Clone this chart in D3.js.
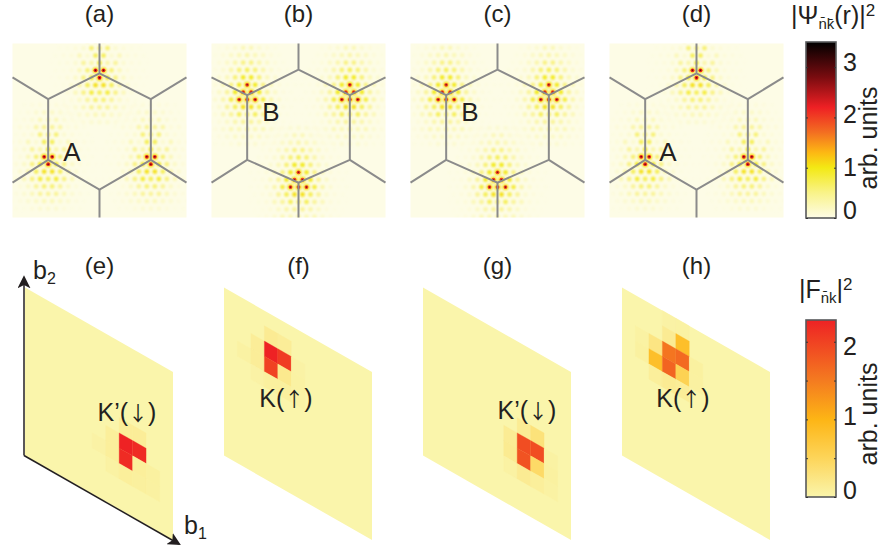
<!DOCTYPE html>
<html lang="en">
<head>
<meta charset="UTF-8">
<title>Wavefunction and Fourier weights</title>
<script src="https://cdn.jsdelivr.net/npm/d3@7/dist/d3.min.js"></script>
<style>
html, body { margin: 0; padding: 0; background: #fff; }
svg { display: block; }
text { font-family: "Liberation Sans", Arial, sans-serif; fill: #231f20; }
</style>
</head>
<body>
<svg width="894" height="552"></svg>
<script>
// real space panels
var topLabels = ["(a)", "(b)", "(c)", "(d)"];
var topSublattice = ["A", "B", "B", "A"];
var topKinds = ["up", "down", "down", "up"];

// cell outline in panel units (-1..1), one list per orientation
var cellLines = {
    up: [
        [[0, -1], [0, -0.657], [0.59, -0.36], [0.59, 0.337], [0, 0.68], [-0.59, 0.337], [-0.59, -0.36], [0, -0.657]],
        [[-0.59, -0.36], [-1, -0.61]], [[0.59, -0.36], [1, -0.61]],
        [[-0.59, 0.337], [-1, 0.6]], [[0.59, 0.337], [1, 0.6]], [[0, 0.68], [0, 1]]
    ],
    down: [
        [[0, -1], [0, -0.7], [0.59, -0.406], [0.59, 0.337], [0, 0.6], [-0.59, 0.337], [-0.59, -0.406], [0, -0.7]],
        [[-0.59, -0.406], [-1, -0.61]], [[0.59, -0.406], [1, -0.61]],
        [[-0.59, 0.337], [-1, 0.6]], [[0.59, 0.337], [1, 0.6]], [[0, 0.6], [0, 1]]
    ]
};
// which corners carry the density
var hotCorners = {
    up: [[0, -0.657], [-0.59, 0.337], [0.59, 0.337]],
    down: [[-0.59, -0.406], [0.59, -0.406], [0, 0.6]]
};
// density read around one corner, rows top to bottom
var patchUp = [
    [.08, .12, .15, .15, .15, .12, .08],
    [.08, .12, .2, .25, .25, .2, .12, .08],
    [.1, .12, .18, .3, .3, .3, .18, .12, .1],
    [.1, .15, .15, .35, .4, .4, .35, .15, .15, .1],
    [.08, .1, .15, .2, .5, .45, .5, .2, .15, .1, .08],
    [.08, .12, .15, .3, .2, .6, .6, .2, .3, .15, .12, .08],
    [.06, .1, .12, .2, .4, .35, .75, .35, .4, .2, .12, .1, .06],
    [.08, .1, .15, .3, .5, 2.4, 2.4, .5, .3, .15, .1, .08],
    [.06, .1, .15, .25, .45, .8, 2.4, .8, .45, .25, .15, .1, .06],
    [.06, .1, .2, .35, .6, .9, .9, .6, .35, .2, .1, .06],
    [.06, .1, .15, .3, .45, .7, .6, .7, .45, .3, .15, .1, .06],
    [.05, .1, .15, .25, .4, .5, .5, .4, .25, .15, .1, .05],
    [.08, .12, .2, .3, .4, .4, .4, .3, .2, .12, .08],
    [.08, .12, .2, .25, .3, .3, .25, .2, .12, .08],
    [.08, .1, .15, .2, .2, .2, .15, .1, .08]
];
var patchDown = [
    [.1, .12, .18, .2, .18, .12, .1],
    [.1, .15, .2, .3, .3, .2, .15, .1],
    [.1, .15, .25, .3, .35, .3, .25, .15, .1],
    [.1, .15, .25, .35, .45, .45, .35, .25, .15, .1],
    [.1, .12, .2, .35, .5, .6, .5, .35, .2, .12, .1],
    [.08, .12, .2, .3, .5, .8, .8, .5, .3, .2, .12, .08],
    [.08, .1, .15, .3, .45, .8, 2.2, .8, .45, .3, .15, .1, .08],
    [.08, .12, .25, .4, .8, 2.2, 2.2, .8, .4, .25, .12, .08],
    [.08, .1, .2, .35, .7, 2.2, 2.2, 2.2, .7, .35, .2, .1, .08],
    [.08, .12, .2, .4, .6, .9, .9, .6, .4, .2, .12, .08],
    [.06, .1, .15, .3, .4, .6, .5, .6, .4, .3, .15, .1, .06],
    [.06, .1, .15, .25, .35, .4, .4, .35, .25, .15, .1, .06],
    [.08, .12, .2, .3, .3, .35, .3, .3, .2, .12, .08],
    [.08, .12, .18, .25, .25, .25, .25, .18, .12, .08],
    [.08, .1, .15, .2, .2, .2, .15, .1, .08]
];

// momentum space panels: [column, row, weight], the rest of the 11x11 grid is 0
var bottomLabels = ["(e)", "(f)", "(g)", "(h)"];
var valleyNames = ["K’(", "K(", "K’(", "K("];
var valleySpins = ["↓", "↑", "↓", "↑"];
var gridSize = 11;
var weightsE = [[7, 6, 2.28], [8, 6, 2.2], [7, 7, 2.2], [8, 7, .1], [7, 5, .12], [8, 5, .12], [6, 6, .1], [6, 7, .1], [7, 8, .1], [8, 8, .08], [9, 7, .07], [9, 8, .06], [5, 7, .04], [6, 8, .05]];
var weightsF = [[3, 2, 2.28], [4, 2, 2.05], [3, 3, 2.0], [4, 3, .18], [3, 1, .15], [4, 1, .12], [2, 2, .12], [2, 3, .12], [3, 4, .08], [4, 4, .08], [1, 3, .05], [5, 3, .05], [5, 2, .04], [5, 4, .04], [2, 4, .04]];
var weightsG = [[7, 6, 1.9], [8, 6, 1.9], [7, 7, 1.85], [8, 7, .42], [8, 5, .3], [7, 5, .14], [6, 6, .14], [6, 7, .16], [7, 8, .15], [8, 8, .1], [9, 7, .07], [9, 6, .05], [9, 8, .05], [6, 8, .05]];
var weightsH = [[3, 2, 1.55], [4, 2, 1.65], [3, 3, 1.7], [4, 3, .55], [2, 3, .85], [4, 1, .85], [2, 2, .25], [3, 1, .15], [2, 4, .1], [3, 4, .15], [4, 4, .12], [1, 3, .07], [1, 2, .05], [5, 2, .07], [5, 3, .06], [3, 0, .04], [4, 0, .05]];
var allWeights = [weightsE, weightsF, weightsG, weightsH];

// colour bars
var psiDomain = [0, .5, 1, 1.3, 1.7, 2.2, 2.8, 3.5];
var psiColors = ["#fdfce6", "#f9f389", "#f3e914", "#fdb813", "#f36f21", "#ee2024", "#7a0c10", "#000000"];
var psiTicks = [0, 1, 2, 3];
var psiLabelShift = [-8, -1, -3, -5];
var weightDomain = [0, .5, 1, 1.5, 2.28];
var weightColors = ["#faf5ab", "#fdd55a", "#fdb515", "#f47b20", "#ee2224"];
var weightTicks = [0, .5, 1, 1.5, 2];
var weightLabelShift = { 0: -7, 1: -3, 2: 4 };

var svg = d3.select("svg");
var defs = svg.append("defs");
defs.append("filter").attr("id", "soft").attr("x", "-100%").attr("y", "-100%").attr("width", "300%").attr("height", "300%")
    .append("feGaussianBlur").attr("stdDeviation", .95);
defs.append("filter").attr("id", "softer").attr("x", "-100%").attr("y", "-100%").attr("width", "300%").attr("height", "300%")
    .append("feGaussianBlur").attr("stdDeviation", .4);

var psiColor = d3.scaleLinear().domain(psiDomain).range(psiColors).clamp(true);
var weightColor = d3.scaleLinear().domain(weightDomain).range(weightColors).clamp(true);

var topX0 = d3.scaleLinear().domain([0, 3]).range([99.5, 696.5]);
var half = 87;
var cy = 130.5;
var latticeX = 8, latticeY = 7.4;
var sublatticeX = [72, 271, 470, 668];

topLabels.forEach(function (label, i) {
    var cx = topX0(i);
    var kind = topKinds[i];
    var x = d3.scaleLinear().domain([-1, 1]).range([cx - half, cx + half]);
    var y = d3.scaleLinear().domain([-1, 1]).range([cy - half, cy + half]);
    var g = svg.append("g");

    defs.append("clipPath").attr("id", "clip" + i).append("rect")
        .attr("x", x(-1)).attr("y", y(-1)).attr("width", half * 2).attr("height", half * 2);

    g.append("rect").attr("x", x(-1)).attr("y", y(-1)).attr("width", half * 2).attr("height", half * 2)
        .attr("fill", psiColor(0));

    var patch = kind == "up" ? patchUp : patchDown;
    var spots = [];
    hotCorners[kind].forEach(function (c) {
        patch.forEach(function (row, k) {
            row.forEach(function (v, j) {
                spots.push({
                    x: x(c[0]) + (j - (row.length - 1) / 2) * latticeX,
                    y: y(c[1]) - 3 + (k - 7) * latticeY,
                    v: v
                });
            });
        });
    });
    spots.sort(function (a, b) { return a.v - b.v; });

    var clipped = g.append("g").attr("clip-path", "url(#clip" + i + ")");
    // fringes and the yellow halo round each peak
    clipped.append("g").attr("filter", "url(#soft)").selectAll("circle")
        .data(spots).enter().append("circle")
        .attr("cx", function (d) { return d.x; })
        .attr("cy", function (d) { return d.y; })
        .attr("r", function (d) { return d.v >= 1.5 ? 3.2 : 2.4; })
        .attr("fill", function (d) { return psiColor(Math.min(d.v * 1.2, 1.05)); })
        .attr("fill-opacity", function (d) { return Math.min(1, d.v * 2.2); });
    var peaks = spots.filter(function (d) { return d.v >= 1.5; });
    clipped.append("g").attr("filter", "url(#softer)").selectAll("circle")
        .data(peaks).enter().append("circle")
        .attr("cx", function (d) { return d.x; })
        .attr("cy", function (d) { return d.y; })
        .attr("r", 1.9)
        .attr("fill", function (d) { return psiColor(d.v - .2); });
    clipped.append("g").attr("filter", "url(#softer)").selectAll("circle")
        .data(peaks).enter().append("circle")
        .attr("cx", function (d) { return d.x; })
        .attr("cy", function (d) { return d.y; })
        .attr("r", .8)
        .attr("fill", function (d) { return psiColor(d.v + .6); });

    var line = d3.line().x(function (d) { return x(d[0]); }).y(function (d) { return y(d[1]); });
    g.selectAll("path.cell").data(cellLines[kind]).enter().append("path")
        .attr("class", "cell")
        .attr("d", line)
        .attr("fill", "none")
        .attr("stroke", "#8b8b8b")
        .attr("stroke-width", 2);

    svg.append("text").attr("x", cx).attr("y", 22).attr("text-anchor", "middle")
        .attr("font-size", 24).text(label);
    svg.append("text")
        .attr("x", sublatticeX[i])
        .attr("y", kind == "up" ? 161 : 121)
        .attr("text-anchor", "middle").attr("font-size", 26)
        .text(topSublattice[i]);
});

// parallelogram panels
var bottomLeft = d3.scaleLinear().domain([0, 3]).range([25, 622]);
var colX = d3.scaleLinear().domain([0, gridSize]).range([0, 148]);
var colShear = d3.scaleLinear().domain([0, gridSize]).range([287.5, 372]);
var rowY = d3.scaleLinear().domain([0, gridSize]).range([0, 168]);

function cellPath(left, c, r, w) {
    w = w || 1;
    var pts = [[c, r], [c + w, r], [c + w, r + w], [c, r + w]].map(function (p) {
        return [left + colX(p[0]), colShear(p[0]) + rowY(p[1])];
    });
    return d3.line()(pts) + "Z";
}

var valleyPos = [[127, 421], [286, 407], [527, 419], [683, 407]];

bottomLabels.forEach(function (label, i) {
    var left = bottomLeft(i);
    var cells = [];
    d3.range(gridSize).forEach(function (c) {
        d3.range(gridSize).forEach(function (r) {
            cells.push({ c: c, r: r, v: 0 });
        });
    });
    allWeights[i].forEach(function (w) {
        cells[w[0] * gridSize + w[1]].v = w[2];
    });
    // whole sheet first so the cell joins do not show
    svg.append("path").attr("d", cellPath(left, 0, 0, gridSize)).attr("fill", weightColor(0));
    svg.append("g").selectAll("path").data(cells.filter(function (d) { return d.v > 0; })).enter().append("path")
        .attr("d", function (d) { return cellPath(left, d.c, d.r); })
        .attr("fill", function (d) { return weightColor(d.v); })
        .attr("stroke", function (d) { return weightColor(d.v); })
        .attr("stroke-width", .3);

    svg.append("text").attr("x", topX0(i)).attr("y", 274).attr("text-anchor", "middle")
        .attr("font-size", 24).text(label);
    var t = svg.append("text").attr("x", valleyPos[i][0]).attr("y", valleyPos[i][1]).attr("text-anchor", "middle")
        .attr("font-size", 25).text(valleyNames[i]);
    t.append("tspan").attr("font-family", "Noto Sans CJK SC").attr("font-size", 20).text(valleySpins[i]);
    t.append("tspan").text(")");
});

// reciprocal lattice arrows follow the edges of panel (e)
var origin = [bottomLeft(0) - 1, colShear(0) + rowY(gridSize)];
var endB2 = [origin[0], colShear(0) - 10];
var endB1 = [bottomLeft(0) + colX(gridSize) + 6, colShear(gridSize) + rowY(gridSize) + 4];
defs.append("marker").attr("id", "head").attr("viewBox", "0 0 12 12").attr("refX", 10).attr("refY", 6)
    .attr("markerWidth", 13).attr("markerHeight", 13).attr("markerUnits", "userSpaceOnUse").attr("orient", "auto")
    .append("path").attr("d", "M0,0 L12,6 L0,12 L3,6 Z").attr("fill", "#231f20");
[endB2, endB1].forEach(function (end) {
    svg.append("line").attr("x1", origin[0]).attr("y1", origin[1]).attr("x2", end[0]).attr("y2", end[1])
        .attr("stroke", "#231f20").attr("stroke-width", 1.5).attr("marker-end", "url(#head)");
});
var b2 = svg.append("text").attr("x", 33).attr("y", 279).attr("font-size", 25).text("b");
b2.append("tspan").attr("font-size", 16).attr("dy", 5).text("2");
var b1 = svg.append("text").attr("x", 184).attr("y", 534).attr("font-size", 25).text("b");
b1.append("tspan").attr("font-size", 16).attr("dy", 5).text("1");

// colour bars
function colorBar(id, top, bottom, domain, colors, ticks, shift, labelled) {
    var scale = d3.scaleLinear().domain([0, domain[domain.length - 1]]).range([bottom, top]);
    var grad = defs.append("linearGradient").attr("id", id).attr("x1", 0).attr("y1", 1).attr("x2", 0).attr("y2", 0);
    domain.forEach(function (d, i) {
        grad.append("stop").attr("offset", d / domain[domain.length - 1]).attr("stop-color", colors[i]);
    });
    var g = svg.append("g").attr("transform", "translate(806,0)");
    g.append("rect").attr("x", 0).attr("y", top).attr("width", 30).attr("height", bottom - top)
        .attr("fill", "url(#" + id + ")").attr("stroke", "#58595b").attr("stroke-width", 1.6);
    var axis = g.append("g").attr("transform", "translate(30,0)")
        .call(d3.axisLeft(scale).tickValues(ticks).tickSize(2).tickFormat(""));
    axis.select(".domain").remove();
    axis.selectAll("line").attr("stroke", "#333").attr("stroke-width", 1).attr("x1", 0).attr("x2", -2);
    var axisL = g.append("g")
        .call(d3.axisRight(scale).tickValues(ticks).tickSize(2).tickPadding(35)
            .tickFormat(function (d) { return labelled(d) ? d : ""; }));
    axisL.select(".domain").remove();
    axisL.selectAll("line").attr("stroke", "#333").attr("stroke-width", 1);
    axisL.selectAll("text")
        .attr("x", 37).attr("text-anchor", "start")
        .attr("font-size", 25).attr("font-family", "Liberation Sans")
        .attr("fill", "#231f20")
        .attr("dy", function (d) { return (shift[d] + 8.5) + "px"; });
}
colorBar("psiGrad", 42, 218, psiDomain, psiColors, psiTicks, psiLabelShift, function () { return true; });
colorBar("weightGrad", 320, 497, weightDomain, weightColors, weightTicks, weightLabelShift, function (d) { return d % 1 == 0; });

svg.append("text").attr("transform", "translate(877,138) rotate(-90)").attr("text-anchor", "middle")
    .attr("font-size", 25).text("arb. units");
svg.append("text").attr("transform", "translate(877,414) rotate(-90)").attr("text-anchor", "middle")
    .attr("font-size", 25).text("arb. units");

// titles with the barred subscripts
var psiTitle = svg.append("text").attr("x", 791).attr("y", 24).attr("font-size", 25).text("|Ψ");
psiTitle.append("tspan").attr("font-size", 15).attr("dy", 5).text("n̄k̄");
psiTitle.append("tspan").attr("dy", -5).text("(r)|");
psiTitle.append("tspan").attr("font-size", 17).attr("dy", -8).text("2");

var fTitle = svg.append("text").attr("x", 799).attr("y", 298).attr("font-size", 25).text("|F");
fTitle.append("tspan").attr("font-size", 15).attr("dy", 5).text("n̄k");
fTitle.append("tspan").attr("dy", -5).text("|");
fTitle.append("tspan").attr("font-size", 17).attr("dy", -8).text("2");
</script>
</body>
</html>
